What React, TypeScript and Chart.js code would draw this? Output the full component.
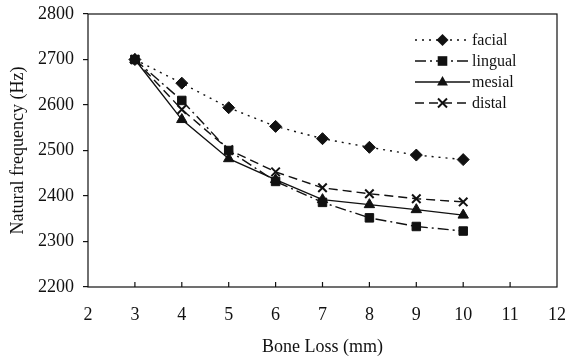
import React, { useEffect, useRef } from "react";
import { Chart, registerables } from "chart.js";
Chart.register(...registerables);

const boneLoss = [3, 4, 5, 6, 7, 8, 9, 10];
const facial = [2700, 2648, 2594, 2553, 2526, 2507, 2490, 2480];
const lingual = [2700, 2610, 2500, 2432, 2386, 2352, 2333, 2323];
const mesial = [2700, 2568, 2482, 2436, 2392, 2381, 2370, 2358];
const distal = [2700, 2590, 2502, 2453, 2418, 2405, 2394, 2387];
const seriesNames = ["facial", "lingual", "mesial", "distal"];
const xTitle = "Bone Loss (mm)";
const yTitle = "Natural frequency (Hz)";

const FONT = "'Liberation Serif', 'Times New Roman', serif";
const INK = "#111";

const styles = [
  { dash: [2, 5], point: "rectRot" },
  { dash: [11, 4, 2, 4], point: "rect" },
  { dash: [], point: "triangle" },
  { dash: [9, 5], point: "crossRot" },
];

function drawMarker(ctx: CanvasRenderingContext2D, kind: string, x: number, y: number, r: number) {
  ctx.save();
  ctx.setLineDash([]);
  ctx.fillStyle = INK;
  ctx.strokeStyle = INK;
  ctx.lineWidth = 2;
  ctx.beginPath();
  if (kind === "rectRot") {
    ctx.moveTo(x, y - r);
    ctx.lineTo(x + r, y);
    ctx.lineTo(x, y + r);
    ctx.lineTo(x - r, y);
    ctx.closePath();
    ctx.fill();
  } else if (kind === "rect") {
    ctx.rect(x - r * 0.8, y - r * 0.8, r * 1.6, r * 1.6);
    ctx.fill();
  } else if (kind === "triangle") {
    ctx.moveTo(x, y - r);
    ctx.lineTo(x + r * 0.9, y + r * 0.6);
    ctx.lineTo(x - r * 0.9, y + r * 0.6);
    ctx.closePath();
    ctx.fill();
  } else {
    const d = r * 0.75;
    ctx.moveTo(x - d, y - d);
    ctx.lineTo(x + d, y + d);
    ctx.moveTo(x + d, y - d);
    ctx.lineTo(x - d, y + d);
    ctx.stroke();
  }
  ctx.restore();
}

const framePlugin = {
  id: "frame",
  beforeDatasetsDraw(chart: any) {
    const { ctx, chartArea } = chart;
    const { left, right, top, bottom } = chartArea;
    ctx.save();
    ctx.strokeStyle = INK;
    ctx.lineWidth = 1.2;
    ctx.strokeRect(left, top, right - left, bottom - top);
    const xs = chart.scales.x;
    for (let v = 3; v <= 11; v++) {
      const px = xs.getPixelForValue(v);
      ctx.beginPath();
      ctx.moveTo(px, bottom);
      ctx.lineTo(px, bottom - 5);
      ctx.stroke();
    }
    ctx.restore();
  },
  afterDraw(chart: any) {
    const { ctx } = chart;
    const x0 = 415;
    const x1 = 470;
    const ys = [40, 61, 82, 103];
    ctx.save();
    ctx.font = `16px ${FONT}`;
    ctx.textBaseline = "middle";
    ctx.fillStyle = INK;
    seriesNames.forEach((name, i) => {
      const y = ys[i];
      ctx.strokeStyle = INK;
      ctx.lineWidth = 1.4;
      ctx.setLineDash(styles[i].dash);
      ctx.beginPath();
      ctx.moveTo(x0, y);
      ctx.lineTo(x1, y);
      ctx.stroke();
      ctx.setLineDash([]);
      drawMarker(ctx, styles[i].point, (x0 + x1) / 2, y, 6);
      ctx.fillText(name, x1 + 2, y + 1);
    });
    ctx.restore();
  },
};

export default function App() {
  const ref = useRef<HTMLCanvasElement>(null);
  useEffect(() => {
    const toPts = (arr: number[]) => boneLoss.map((x, i) => ({ x, y: arr[i] }));
    const all = [facial, lingual, mesial, distal];
    const chart = new Chart(ref.current!, {
      type: "line",
      data: {
        datasets: all.map((arr, i) => ({
          label: seriesNames[i],
          data: toPts(arr),
          borderColor: INK,
          backgroundColor: INK,
          borderWidth: 1.4,
          borderDash: styles[i].dash,
          pointStyle: styles[i].point as any,
          pointRadius: 6,
          pointBorderWidth: styles[i].point === "crossRot" ? 2 : 1,
          pointBorderColor: INK,
          pointBackgroundColor: INK,
          tension: 0,
          fill: false,
        })),
      },
      options: {
        animation: false,
        responsive: true,
        maintainAspectRatio: false,
        layout: { padding: { top: 14, right: 11, left: 0, bottom: 0 } },
        plugins: { legend: { display: false }, tooltip: { enabled: false } },
        scales: {
          x: {
            type: "linear",
            min: 2,
            max: 12,
            ticks: {
              stepSize: 1,
              color: INK,
              font: { family: FONT, size: 18 },
              padding: 17,
              callback: (v: any) => String(v),
            },
            grid: { display: false, drawTicks: false },
            border: { display: false },
            title: { display: true, text: xTitle, color: INK, font: { family: FONT, size: 18 }, padding: { top: 12, bottom: 0 } },
            afterFit: (s: any) => { s.height = 71; s.paddingLeft = 0; s.paddingRight = 0; },
          },
          y: {
            type: "linear",
            min: 2200,
            max: 2800,
            ticks: {
              stepSize: 100,
              color: INK,
              font: { family: FONT, size: 18 },
              padding: 9,
              callback: (v: any) => String(v),
            },
            grid: { display: true, drawOnChartArea: false, drawTicks: true, tickLength: 5, color: INK, lineWidth: 1.2 },
            border: { display: false },
            title: { display: true, text: yTitle, color: INK, font: { family: FONT, size: 18 }, padding: { top: 7, bottom: 3 } },
            afterFit: (s: any) => { s.width = 88; s.paddingTop = 0; s.paddingBottom = 0; },
          },
        },
      },
      plugins: [framePlugin],
    });
    return () => chart.destroy();
  }, []);
  return (
    <div style={{ position: "absolute", left: 0, top: 0, width: 568, height: 358, background: "#fff" }}>
      <canvas ref={ref} />
    </div>
  );
}
